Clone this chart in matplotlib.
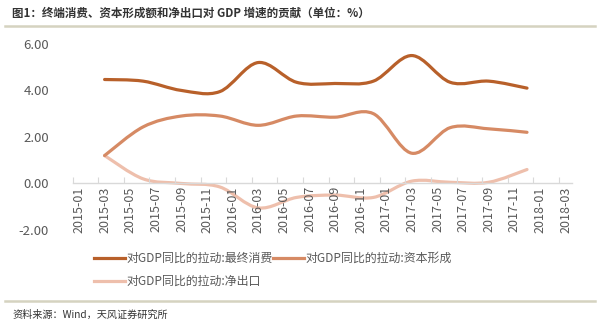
import numpy as np
import matplotlib
matplotlib.use("Agg")
import matplotlib.pyplot as plt
from matplotlib.path import Path
from matplotlib.patches import PathPatch
from matplotlib.lines import Line2D

plt.rcParams['font.family'] = ['Noto Sans CJK SC', 'DejaVu Sans']

# quarterly points, 2015Q1 .. 2017Q4 (month index from 2015-01)
months = [2.5 + 3 * i for i in range(12)]
consumption = [4.47, 4.40, 4.00, 3.95, 5.20, 4.35, 4.30, 4.40, 5.50, 4.35, 4.40, 4.10]
capital = [1.20, 2.43, 2.90, 2.90, 2.50, 2.90, 2.85, 3.00, 1.30, 2.40, 2.35, 2.20]
net_export = [1.20, 0.20, 0.00, -0.15, -1.05, -0.60, -0.50, -0.60, 0.10, 0.05, 0.05, 0.60]

tick_labels = [f"{y}-{m:02d}" for y in (2015, 2016, 2017, 2018) for m in (1, 3, 5, 7, 9, 11)][:20]
yticks = [-2, 0, 2, 4, 6]

names = ["对GDP同比的拉动:最终消费", "对GDP同比的拉动:资本形成", "对GDP同比的拉动:净出口"]
colors = ["#B8602A", "#D68A64", "#EEBFAC"]


def smooth_path(x, y, t=1 / 6):
    # excel-like smoothed line: catmull-rom segments as cubic beziers
    x = np.asarray(x, float)
    y = np.asarray(y, float)
    pts = np.column_stack([x, y])
    verts = [pts[0]]
    codes = [Path.MOVETO]
    n = len(pts)
    for i in range(n - 1):
        p0 = pts[i - 1] if i > 0 else pts[i]
        p1 = pts[i]
        p2 = pts[i + 1]
        p3 = pts[i + 2] if i + 2 < n else pts[i + 1]
        c1 = p1 + (p2 - p0) * t
        c2 = p2 - (p3 - p1) * t
        verts += [c1, c2, p2]
        codes += [Path.CURVE4] * 3
    return Path(verts, codes)


fig = plt.figure(figsize=(6, 3.23), dpi=100)
ax = fig.add_axes([0.121, 0.288, 0.832, 0.576])

for vals, c in zip([net_export, capital, consumption], colors[::-1]):
    ax.add_patch(PathPatch(smooth_path(months, vals), fill=False, edgecolor=c,
                           lw=2.3, capstyle='round', joinstyle='round'))

ax.set_xlim(0, 39)
ax.set_ylim(-2, 6)

for s in ["top", "right", "left"]:
    ax.spines[s].set_visible(False)
ax.spines["bottom"].set_position(("data", 0))
ax.spines["bottom"].set_color("#D9D9D9")
ax.spines["bottom"].set_linewidth(1.0)

ax.set_yticks(yticks)
ax.set_yticklabels([f"{v:.2f}" for v in yticks], fontsize=9.5, color="#595959")
ax.tick_params(axis="y", length=0, pad=17)

ax.set_xticks(np.arange(0, 40, 2))
ax.set_xticklabels(tick_labels, rotation=90, fontsize=9, color="#595959", ha="left")
ax.tick_params(axis="x", length=4, width=0.8, color="#D9D9D9", pad=2, direction="in")

handles = [Line2D([], [], color=c, lw=2.3) for c in colors]
order = [0, 2, 1]
fig.legend([handles[i] for i in order], [names[i] for i in order],
           loc="upper left", bbox_to_anchor=(0.148, 0.235), ncol=2, frameon=False,
           fontsize=8.6, handlelength=2.6, handletextpad=0.15, columnspacing=0.0,
           labelspacing=0.85, borderaxespad=0, labelcolor="#595959")

# header & footer
fig.text(0.02, 0.958, "图1：终端消费、资本形成额和净出口对 GDP 增速的贡献（单位：%）",
         fontsize=8.3, fontweight="bold", color="#333333", va="center")
fig.add_artist(Line2D([0.008, 0.992], [0.918, 0.918], color="#D5D3C0", lw=1.8))
fig.add_artist(Line2D([0.008, 0.992], [0.068, 0.068], color="#D5D3C0", lw=1.8))
fig.text(0.02, 0.025, "资料来源：Wind，天风证券研究所", fontsize=7.3, color="#333333", va="center")

fig.savefig("out.png", dpi=100, facecolor="white")
